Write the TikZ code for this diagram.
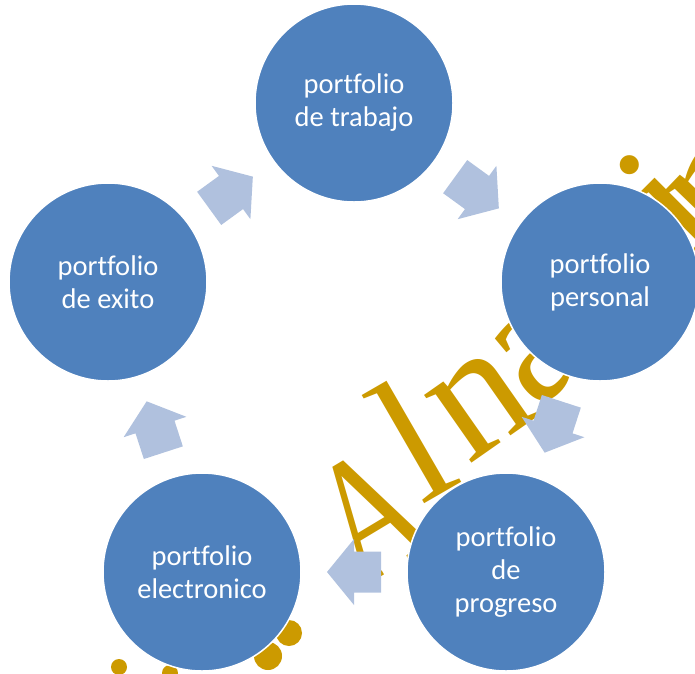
\documentclass[tikz,border=0pt]{standalone}
\usepackage{fontspec}
\newfontfamily\carlito[Ligatures={NoCommon,NoRequired,NoContextual}]{Carlito}
\newfontfamily\wmserif{Liberation Serif}
\usetikzlibrary{calc}
\definecolor{cblue}{HTML}{4F81BD}
\definecolor{afill}{HTML}{B0C1DE}
\definecolor{wgold}{HTML}{CC9A00}
\tikzset{
  bubble/.style={circle, fill=cblue, draw=white, line width=1.5pt, minimum size=198pt,
    inner sep=0pt, text=white, align=center, font=\carlito\fontsize{28.5}{33}\selectfont},
  wmark/.style={text=wgold, inner sep=0pt, anchor=base, font=\wmserif\fontsize{180}{180}\selectfont},
  cyclearrow/.pic={\fill[afill] (-27,-20.5) -- (0,-20.5) -- (0,-33) -- (27,0) -- (0,33) -- (0,20.5) -- (-27,20.5) -- cycle;}
}
\begin{document}
\begin{tikzpicture}[x=1pt,y=-1pt]
\useasboundingbox (0,0) rectangle (695,673);
\begin{scope}
\clip (0,0) rectangle (695,673);
% watermark (behind everything), letters set along a rising arch
\node[wmark, rotate=31] (wA) at (400,565) {\scalebox{0.75}[1]{A}};
\node[wmark, rotate=30] (wl) at (443,493) {l};
\node[wmark, rotate=35] (wn) at (505,440) {n};
\node[wmark, rotate=40] (wa) at (566,386) {a};
\node[wmark, rotate=45] (wi) at (708,242) {i};
\node[wmark, rotate=46] (wn2) at (752,220) {n};
\fill[wgold] (119,667) circle (8);
\fill[wgold] (289,633) circle (13);
\fill[wgold] (268,656) circle (14);
\fill[wgold] (170,673) circle (8);
% circles
\node[bubble] (trabajo) at (354,103) {portfolio\\de trabajo};
\node[bubble] (personal) at (600,282) {portfolio\\personal};
\node[bubble] (progreso) at (506,572) {portfolio\\de\\progreso};
\node[bubble] (electronico) at (202,572) {portfolio\\electronico};
\node[bubble] (exito) at (108,282) {portfolio\\de exito};
% block arrows
\pic[rotate=36] (a1) at ($(exito.center)!0.5!(trabajo.center)$) {cyclearrow};
\pic[rotate=-36] (a2) at ($(trabajo.center)!0.5!(personal.center)$) {cyclearrow};
\pic[rotate=-108] (a3) at ($(personal.center)!0.5!(progreso.center)$) {cyclearrow};
\pic[rotate=180] (a4) at ($(progreso.center)!0.5!(electronico.center)$) {cyclearrow};
\pic[rotate=108] (a5) at ($(electronico.center)!0.5!(exito.center)$) {cyclearrow};
\end{scope}
\end{tikzpicture}
\end{document}
